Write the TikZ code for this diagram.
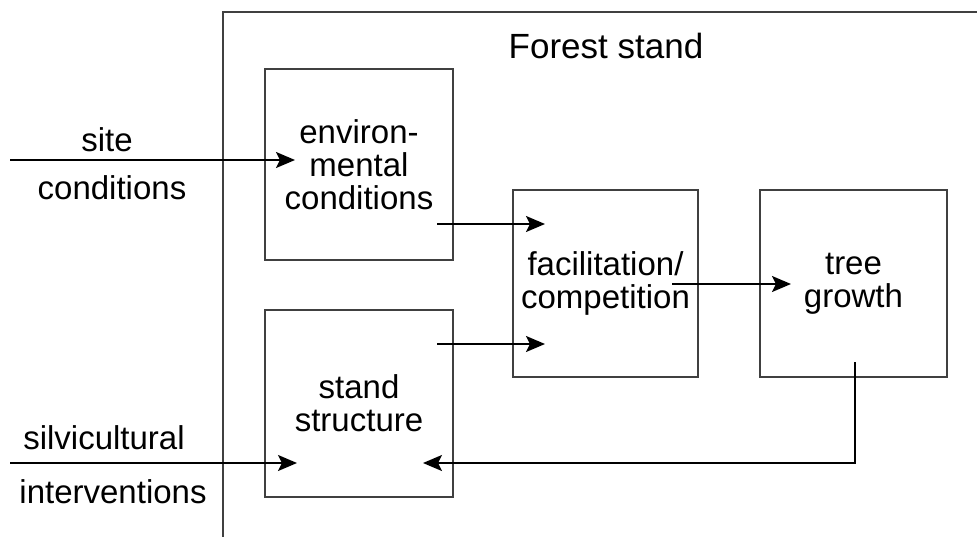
\documentclass[tikz,border=0pt]{standalone}
\usepackage{fontspec}
\setmainfont{Liberation Sans}
\usetikzlibrary{arrows.meta}
\begin{document}
\begin{tikzpicture}[x=1pt,y=-1pt,
  boxnode/.style={draw=black!75,line width=1.4pt,inner sep=0pt,align=center,font=\fontsize{33}{33}\selectfont},
  lbl/.style={inner sep=0pt,align=center,font=\fontsize{33}{32.5}\selectfont},
  arr/.style={line width=1.9pt,-{Stealth[length=19pt,width=16pt,inset=4pt]}}]
\useasboundingbox (0,0) rectangle (977,536);
\draw[draw=black!75,line width=1.4pt] (223,540) -- (223,12) -- (980,12);
\node[lbl,font=\fontsize{35}{35}\selectfont] (title) at (606,46) {Forest stand};
\node[boxnode,minimum width=188pt,minimum height=191pt] (env) at (359,164.5) {environ-\\mental\\conditions};
\node[boxnode,minimum width=188pt,minimum height=187pt] (stand) at (359,403.5) {stand\\structure};
\node[boxnode,minimum width=185pt,minimum height=187pt] (fac) at (605.5,283.5) {facilitation/\\competition};
\node[boxnode,minimum width=187pt,minimum height=187pt] (tree) at (853.5,283.5) {tree\\growth};
\node[lbl] (site) at (107,140) {site};
\node[lbl] (sitec) at (112,188) {conditions};
\node[lbl] (silv) at (104,438) {silvicultural};
\node[lbl] (interv) at (113,492) {interventions};
\coordinate (s0) at (10,160); \coordinate (s1) at (295,160);
\coordinate (e0) at (437,224); \coordinate (e1) at (545,224);
\coordinate (t0) at (437,344); \coordinate (t1) at (545,344);
\coordinate (f0) at (672,284); \coordinate (f1) at (791,284);
\coordinate (v0) at (10,463); \coordinate (v1) at (297,463);
\coordinate (g0) at (855,362); \coordinate (g1) at (423,463);
\draw[arr] (s0) -- (s1);
\draw[arr] (e0) -- (e1);
\draw[arr] (t0) -- (t1);
\draw[arr] (f0) -- (f1);
\draw[arr] (v0) -- (v1);
\draw[arr] (g0) |- (g1);
\end{tikzpicture}
\end{document}
